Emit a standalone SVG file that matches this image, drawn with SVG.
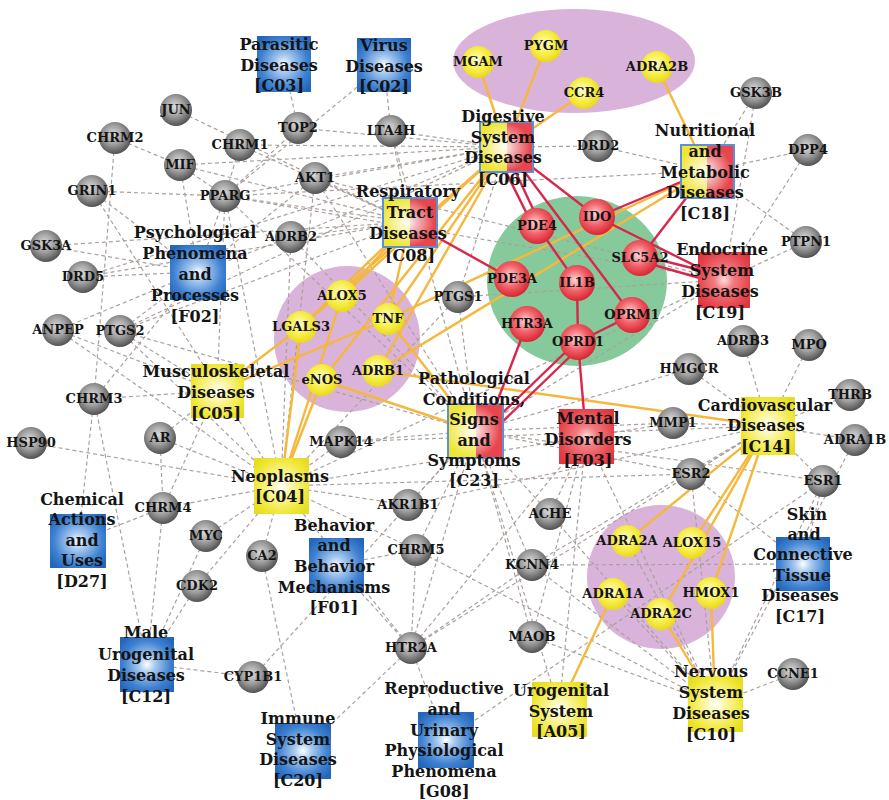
<svg xmlns="http://www.w3.org/2000/svg" width="889" height="800" viewBox="0 0 889 800">
<defs>
<radialGradient id="gGray" cx="0.45" cy="0.4" r="0.62"><stop offset="0" stop-color="#dcdcdc"/><stop offset="0.5" stop-color="#9d9d9d"/><stop offset="1" stop-color="#4c4c4c"/></radialGradient>
<radialGradient id="gYel" cx="0.45" cy="0.42" r="0.6"><stop offset="0" stop-color="#fffbd6"/><stop offset="0.55" stop-color="#f7ef48"/><stop offset="1" stop-color="#ead61c"/></radialGradient>
<radialGradient id="gRed" cx="0.45" cy="0.42" r="0.6"><stop offset="0" stop-color="#ffd8d8"/><stop offset="0.5" stop-color="#f2646c"/><stop offset="1" stop-color="#d8222f"/></radialGradient>
<radialGradient id="sBlue" cx="0.5" cy="0.5" r="0.62"><stop offset="0" stop-color="#ffffff"/><stop offset="0.25" stop-color="#a8c9ef"/><stop offset="0.7" stop-color="#3f82d2"/><stop offset="1" stop-color="#2566ba"/></radialGradient>
<radialGradient id="sYel" cx="0.5" cy="0.5" r="0.62"><stop offset="0" stop-color="#ffffff"/><stop offset="0.3" stop-color="#fbf7a6"/><stop offset="0.8" stop-color="#efe632"/><stop offset="1" stop-color="#e6dc22"/></radialGradient>
<radialGradient id="sRed" cx="0.5" cy="0.5" r="0.62"><stop offset="0" stop-color="#ffdede"/><stop offset="0.3" stop-color="#f27c82"/><stop offset="0.8" stop-color="#e6444c"/><stop offset="1" stop-color="#df3640"/></radialGradient>
<radialGradient id="sGlow" cx="0.45" cy="0.5" r="0.5"><stop offset="0" stop-color="#ffffff" stop-opacity="0.95"/><stop offset="1" stop-color="#ffffff" stop-opacity="0"/></radialGradient>
</defs>
<style>
.gb{fill:url(#gGray)}
.yb{fill:url(#gYel)}
.rb{fill:url(#gRed)}
.sqb{fill:url(#sBlue)}
.sqy{fill:url(#sYel)}
.sqr{fill:url(#sRed)}
.hy{fill:#efe534}
.hr{fill:#e8464e}
.glow{fill:url(#sGlow)}
.out{fill:none;stroke:#5b8fd6;stroke-width:2}
.gl{font-family:"DejaVu Serif","Liberation Serif",serif;font-weight:bold;font-size:13px;fill:#141414;text-anchor:middle}
.dl{font-family:"DejaVu Serif","Liberation Serif",serif;font-weight:bold;font-size:16px;fill:#141414;text-anchor:middle}
.dash line{stroke:#aaa19d;stroke-width:1.2;stroke-dasharray:4 3;fill:none}
.yel line{stroke:#f5b83c;stroke-width:2.4}
.red line{stroke:#d8264d;stroke-width:2.4}
</style>
<rect width="889" height="800" fill="#ffffff"/>
<g id="clusters">
<ellipse cx="574" cy="61" rx="121" ry="52" fill="#d9b3d9"/>
<circle cx="347" cy="339" r="73" fill="#d9b3d9"/>
<ellipse cx="577" cy="281" rx="90" ry="85" fill="#86c99b"/>
<ellipse cx="661" cy="577" rx="74" ry="72" fill="#d9b3d9"/>
</g>
<g id="connectors">
<g class="dash">
<line x1="176" y1="110" x2="410" y2="222"/>
<line x1="115" y1="138" x2="180" y2="165"/>
<line x1="115" y1="138" x2="94" y2="399"/>
<line x1="92" y1="191" x2="225" y2="196"/>
<line x1="92" y1="191" x2="198" y2="272"/>
<line x1="92" y1="191" x2="281" y2="486"/>
<line x1="180" y1="165" x2="225" y2="196"/>
<line x1="180" y1="165" x2="506" y2="147"/>
<line x1="180" y1="165" x2="410" y2="222"/>
<line x1="180" y1="165" x2="198" y2="272"/>
<line x1="240" y1="145" x2="225" y2="196"/>
<line x1="240" y1="145" x2="506" y2="147"/>
<line x1="240" y1="145" x2="410" y2="222"/>
<line x1="225" y1="196" x2="298" y2="128"/>
<line x1="298" y1="128" x2="284" y2="64"/>
<line x1="298" y1="128" x2="506" y2="147"/>
<line x1="384" y1="65" x2="225" y2="196"/>
<line x1="391" y1="131" x2="384" y2="65"/>
<line x1="391" y1="131" x2="506" y2="147"/>
<line x1="391" y1="131" x2="410" y2="222"/>
<line x1="391" y1="131" x2="475" y2="431"/>
<line x1="315" y1="178" x2="506" y2="147"/>
<line x1="315" y1="178" x2="410" y2="222"/>
<line x1="315" y1="178" x2="198" y2="272"/>
<line x1="315" y1="178" x2="475" y2="431"/>
<line x1="315" y1="178" x2="281" y2="486"/>
<line x1="315" y1="178" x2="724" y2="280"/>
<line x1="225" y1="196" x2="506" y2="147"/>
<line x1="225" y1="196" x2="410" y2="222"/>
<line x1="225" y1="196" x2="217" y2="391"/>
<line x1="225" y1="196" x2="281" y2="486"/>
<line x1="225" y1="196" x2="198" y2="272"/>
<line x1="225" y1="196" x2="475" y2="431"/>
<line x1="225" y1="196" x2="724" y2="280"/>
<line x1="225" y1="196" x2="707" y2="171"/>
<line x1="46" y1="246" x2="198" y2="272"/>
<line x1="46" y1="246" x2="410" y2="222"/>
<line x1="83" y1="277" x2="198" y2="272"/>
<line x1="83" y1="277" x2="410" y2="222"/>
<line x1="83" y1="277" x2="506" y2="147"/>
<line x1="58" y1="330" x2="198" y2="272"/>
<line x1="58" y1="330" x2="281" y2="486"/>
<line x1="58" y1="330" x2="217" y2="391"/>
<line x1="120" y1="331" x2="198" y2="272"/>
<line x1="120" y1="331" x2="217" y2="391"/>
<line x1="120" y1="331" x2="281" y2="486"/>
<line x1="120" y1="331" x2="410" y2="222"/>
<line x1="120" y1="331" x2="475" y2="431"/>
<line x1="120" y1="331" x2="506" y2="147"/>
<line x1="94" y1="399" x2="198" y2="272"/>
<line x1="94" y1="399" x2="217" y2="391"/>
<line x1="94" y1="399" x2="147" y2="664"/>
<line x1="94" y1="399" x2="78" y2="541"/>
<line x1="31" y1="443" x2="281" y2="486"/>
<line x1="160" y1="438" x2="217" y2="391"/>
<line x1="160" y1="438" x2="281" y2="486"/>
<line x1="160" y1="438" x2="163" y2="508"/>
<line x1="163" y1="508" x2="281" y2="486"/>
<line x1="163" y1="508" x2="78" y2="541"/>
<line x1="163" y1="508" x2="147" y2="664"/>
<line x1="163" y1="508" x2="217" y2="391"/>
<line x1="206" y1="536" x2="281" y2="486"/>
<line x1="206" y1="536" x2="147" y2="664"/>
<line x1="197" y1="586" x2="281" y2="486"/>
<line x1="197" y1="586" x2="147" y2="664"/>
<line x1="262" y1="556" x2="281" y2="486"/>
<line x1="262" y1="556" x2="303" y2="751"/>
<line x1="253" y1="677" x2="147" y2="664"/>
<line x1="253" y1="677" x2="475" y2="431"/>
<line x1="341" y1="442" x2="281" y2="486"/>
<line x1="341" y1="442" x2="475" y2="431"/>
<line x1="341" y1="442" x2="768" y2="426"/>
<line x1="291" y1="237" x2="410" y2="222"/>
<line x1="291" y1="237" x2="506" y2="147"/>
<line x1="291" y1="237" x2="198" y2="272"/>
<line x1="291" y1="237" x2="281" y2="486"/>
<line x1="291" y1="237" x2="475" y2="431"/>
<line x1="408" y1="505" x2="281" y2="486"/>
<line x1="408" y1="505" x2="475" y2="431"/>
<line x1="408" y1="505" x2="768" y2="426"/>
<line x1="416" y1="550" x2="336" y2="565"/>
<line x1="416" y1="550" x2="281" y2="486"/>
<line x1="416" y1="550" x2="411" y2="648"/>
<line x1="416" y1="550" x2="715" y2="704"/>
<line x1="416" y1="550" x2="475" y2="431"/>
<line x1="411" y1="648" x2="336" y2="565"/>
<line x1="411" y1="648" x2="446" y2="740"/>
<line x1="411" y1="648" x2="303" y2="751"/>
<line x1="411" y1="648" x2="475" y2="431"/>
<line x1="411" y1="648" x2="532" y2="565"/>
<line x1="411" y1="648" x2="586" y2="436"/>
<line x1="411" y1="648" x2="281" y2="486"/>
<line x1="411" y1="648" x2="768" y2="426"/>
<line x1="532" y1="565" x2="475" y2="431"/>
<line x1="532" y1="565" x2="715" y2="704"/>
<line x1="532" y1="565" x2="768" y2="426"/>
<line x1="532" y1="565" x2="803" y2="564"/>
<line x1="532" y1="637" x2="586" y2="436"/>
<line x1="532" y1="637" x2="715" y2="704"/>
<line x1="532" y1="637" x2="475" y2="431"/>
<line x1="550" y1="514" x2="475" y2="431"/>
<line x1="550" y1="514" x2="715" y2="704"/>
<line x1="550" y1="514" x2="586" y2="436"/>
<line x1="446" y1="740" x2="823" y2="481"/>
<line x1="598" y1="146" x2="506" y2="147"/>
<line x1="598" y1="146" x2="707" y2="171"/>
<line x1="756" y1="93" x2="707" y2="171"/>
<line x1="756" y1="93" x2="724" y2="280"/>
<line x1="808" y1="150" x2="707" y2="171"/>
<line x1="808" y1="150" x2="724" y2="280"/>
<line x1="806" y1="242" x2="707" y2="171"/>
<line x1="806" y1="242" x2="724" y2="280"/>
<line x1="743" y1="341" x2="768" y2="426"/>
<line x1="809" y1="345" x2="768" y2="426"/>
<line x1="689" y1="369" x2="768" y2="426"/>
<line x1="850" y1="395" x2="768" y2="426"/>
<line x1="855" y1="440" x2="768" y2="426"/>
<line x1="673" y1="423" x2="768" y2="426"/>
<line x1="691" y1="474" x2="768" y2="426"/>
<line x1="823" y1="481" x2="768" y2="426"/>
<line x1="689" y1="369" x2="475" y2="431"/>
<line x1="673" y1="423" x2="475" y2="431"/>
<line x1="691" y1="474" x2="475" y2="431"/>
<line x1="691" y1="474" x2="715" y2="704"/>
<line x1="691" y1="474" x2="281" y2="486"/>
<line x1="691" y1="474" x2="803" y2="564"/>
<line x1="823" y1="481" x2="803" y2="564"/>
<line x1="823" y1="481" x2="715" y2="704"/>
<line x1="823" y1="481" x2="475" y2="431"/>
<line x1="855" y1="440" x2="715" y2="704"/>
<line x1="793" y1="674" x2="715" y2="704"/>
<line x1="724" y1="280" x2="475" y2="431"/>
<line x1="724" y1="280" x2="281" y2="486"/>
<line x1="458" y1="297" x2="506" y2="147"/>
<line x1="458" y1="297" x2="475" y2="431"/>
<line x1="458" y1="297" x2="281" y2="486"/>
<line x1="458" y1="297" x2="724" y2="280"/>
<line x1="627" y1="541" x2="715" y2="704"/>
<line x1="613" y1="594" x2="715" y2="704"/>
<line x1="475" y1="431" x2="559" y2="709"/>
<line x1="586" y1="436" x2="559" y2="709"/>
<line x1="586" y1="436" x2="715" y2="704"/>
<line x1="281" y1="486" x2="673" y2="423"/>
</g>
<g class="yel">
<line x1="478" y1="62" x2="506" y2="147"/>
<line x1="546" y1="46" x2="506" y2="147"/>
<line x1="584" y1="93" x2="506" y2="147"/>
<line x1="657" y1="67" x2="707" y2="171"/>
<line x1="506" y1="147" x2="342" y2="296"/>
<line x1="506" y1="147" x2="301" y2="327"/>
<line x1="506" y1="147" x2="322" y2="380"/>
<line x1="506" y1="147" x2="378" y2="371"/>
<line x1="506" y1="147" x2="388" y2="319"/>
<line x1="410" y1="222" x2="342" y2="296"/>
<line x1="410" y1="222" x2="388" y2="319"/>
<line x1="410" y1="222" x2="301" y2="327"/>
<line x1="217" y1="391" x2="301" y2="327"/>
<line x1="217" y1="391" x2="388" y2="319"/>
<line x1="281" y1="486" x2="301" y2="327"/>
<line x1="281" y1="486" x2="322" y2="380"/>
<line x1="281" y1="486" x2="342" y2="296"/>
<line x1="322" y1="380" x2="475" y2="431"/>
<line x1="388" y1="319" x2="475" y2="431"/>
<line x1="378" y1="371" x2="768" y2="426"/>
<line x1="707" y1="171" x2="388" y2="319"/>
<line x1="707" y1="171" x2="378" y2="371"/>
<line x1="768" y1="426" x2="627" y2="541"/>
<line x1="768" y1="426" x2="692" y2="543"/>
<line x1="768" y1="426" x2="661" y2="614"/>
<line x1="768" y1="426" x2="711" y2="593"/>
<line x1="715" y1="704" x2="661" y2="614"/>
<line x1="715" y1="704" x2="711" y2="593"/>
<line x1="559" y1="709" x2="613" y2="594"/>
</g>
<g class="red">
<line x1="500" y1="160" x2="533" y2="226"/>
<line x1="510" y1="160" x2="541" y2="226"/>
<line x1="537" y1="226" x2="577" y2="283"/>
<line x1="506" y1="147" x2="597" y2="217"/>
<line x1="506" y1="147" x2="632" y2="315"/>
<line x1="597" y1="217" x2="724" y2="280"/>
<line x1="640" y1="255" x2="724" y2="276"/>
<line x1="640" y1="261" x2="724" y2="285"/>
<line x1="707" y1="171" x2="597" y2="217"/>
<line x1="707" y1="171" x2="640" y2="258"/>
<line x1="410" y1="222" x2="512" y2="279"/>
<line x1="577" y1="283" x2="578" y2="342"/>
<line x1="632" y1="315" x2="578" y2="342"/>
<line x1="527" y1="324" x2="490" y2="420"/>
<line x1="576" y1="342" x2="490" y2="425"/>
<line x1="582" y1="345" x2="496" y2="428"/>
<line x1="578" y1="342" x2="586" y2="436"/>
</g>
</g>
<g id="diseases">
<g id="C03"><rect x="257" y="36" width="54" height="56" class="sqb"/><text class="dl"><tspan x="279" y="50">Parasitic</tspan><tspan x="279" y="71">Diseases</tspan><tspan x="279" y="91">[C03]</tspan></text></g>
<g id="C02"><rect x="357" y="38" width="54" height="54" class="sqb"/><text class="dl"><tspan x="384" y="51">Virus</tspan><tspan x="384" y="72">Diseases</tspan><tspan x="384" y="92">[C02]</tspan></text></g>
<g id="C06"><rect x="480" y="122" width="27" height="50" class="hy"/><rect x="507" y="122" width="26" height="50" class="hr"/><rect x="480" y="122" width="53" height="50" class="glow"/><rect x="480" y="122" width="53" height="50" class="out"/><text class="dl"><tspan x="503" y="122">Digestive</tspan><tspan x="503" y="143">System</tspan><tspan x="503" y="163">Diseases</tspan><tspan x="503" y="185">[C06]</tspan></text></g>
<g id="C08"><rect x="383" y="198" width="27" height="49" class="hy"/><rect x="410" y="198" width="27" height="49" class="hr"/><rect x="383" y="198" width="54" height="49" class="glow"/><rect x="383" y="198" width="54" height="49" class="out"/><text class="dl"><tspan x="408" y="197">Respiratory</tspan><tspan x="410" y="218">Tract</tspan><tspan x="408" y="239">Diseases</tspan><tspan x="410" y="261">[C08]</tspan></text></g>
<g id="C18"><rect x="681" y="145" width="26" height="53" class="hy"/><rect x="707" y="145" width="27" height="53" class="hr"/><rect x="681" y="145" width="53" height="53" class="glow"/><rect x="681" y="145" width="53" height="53" class="out"/><text class="dl"><tspan x="705" y="136">Nutritional</tspan><tspan x="705" y="157">and</tspan><tspan x="705" y="178">Metabolic</tspan><tspan x="705" y="198">Diseases</tspan><tspan x="705" y="219">[C18]</tspan></text></g>
<g id="C19"><rect x="698" y="252" width="52" height="56" class="sqr"/><text class="dl"><tspan x="722" y="255">Endocrine</tspan><tspan x="722" y="276">System</tspan><tspan x="720" y="297">Diseases</tspan><tspan x="720" y="318">[C19]</tspan></text></g>
<g id="F02"><rect x="170" y="245" width="56" height="55" class="sqb"/><text class="dl"><tspan x="195" y="238">Psychological</tspan><tspan x="195" y="259">Phenomena</tspan><tspan x="195" y="280">and</tspan><tspan x="195" y="301">Processes</tspan><tspan x="195" y="322">[F02]</tspan></text></g>
<g id="C05"><rect x="191" y="364" width="53" height="54" class="sqy"/><text class="dl"><tspan x="216" y="377">Musculoskeletal</tspan><tspan x="216" y="398">Diseases</tspan><tspan x="216" y="419">[C05]</tspan></text></g>
<g id="C23"><rect x="448" y="404" width="28" height="54" class="hy"/><rect x="476" y="404" width="27" height="54" class="hr"/><rect x="448" y="404" width="55" height="54" class="glow"/><rect x="448" y="404" width="55" height="54" class="out"/><text class="dl"><tspan x="474" y="384">Pathological</tspan><tspan x="474" y="405">Conditions,</tspan><tspan x="474" y="425">Signs</tspan><tspan x="474" y="446">and</tspan><tspan x="474" y="466">Symptoms</tspan><tspan x="474" y="486">[C23]</tspan></text></g>
<g id="F03"><rect x="559" y="409" width="55" height="55" class="sqr"/><text class="dl"><tspan x="588" y="424">Mental</tspan><tspan x="588" y="445">Disorders</tspan><tspan x="588" y="466">[F03]</tspan></text></g>
<g id="C14"><rect x="741" y="397" width="54" height="58" class="sqy"/><text class="dl"><tspan x="765" y="411">Cardiovascular</tspan><tspan x="766" y="431">Diseases</tspan><tspan x="766" y="452">[C14]</tspan></text></g>
<g id="C04"><rect x="254" y="458" width="55" height="56" class="sqy"/><text class="dl"><tspan x="280" y="482">Neoplasms</tspan><tspan x="280" y="502">[C04]</tspan></text></g>
<g id="D27"><rect x="50" y="514" width="56" height="54" class="sqb"/><text class="dl"><tspan x="82" y="505">Chemical</tspan><tspan x="82" y="525">Actions</tspan><tspan x="82" y="546">and</tspan><tspan x="82" y="566">Uses</tspan><tspan x="82" y="587">[D27]</tspan></text></g>
<g id="F01"><rect x="309" y="538" width="55" height="55" class="sqb"/><text class="dl"><tspan x="334" y="531">Behavior</tspan><tspan x="334" y="551">and</tspan><tspan x="334" y="572">Behavior</tspan><tspan x="334" y="593">Mechanisms</tspan><tspan x="334" y="613">[F01]</tspan></text></g>
<g id="C17"><rect x="776" y="537" width="54" height="54" class="sqb"/><text class="dl"><tspan x="807" y="520">Skin</tspan><tspan x="804" y="540">and</tspan><tspan x="803" y="560">Connective</tspan><tspan x="802" y="581">Tissue</tspan><tspan x="800" y="601">Diseases</tspan><tspan x="800" y="622">[C17]</tspan></text></g>
<g id="C12"><rect x="120" y="637" width="54" height="55" class="sqb"/><text class="dl"><tspan x="146" y="638">Male</tspan><tspan x="146" y="660">Urogenital</tspan><tspan x="146" y="681">Diseases</tspan><tspan x="146" y="702">[C12]</tspan></text></g>
<g id="C20"><rect x="275" y="723" width="56" height="56" class="sqb"/><text class="dl"><tspan x="298" y="724">Immune</tspan><tspan x="298" y="745">System</tspan><tspan x="298" y="765">Diseases</tspan><tspan x="298" y="786">[C20]</tspan></text></g>
<g id="G08"><rect x="418" y="712" width="56" height="56" class="sqb"/><text class="dl"><tspan x="444" y="694">Reproductive</tspan><tspan x="444" y="715">and</tspan><tspan x="444" y="736">Urinary</tspan><tspan x="444" y="756">Physiological</tspan><tspan x="444" y="777">Phenomena</tspan><tspan x="444" y="797">[G08]</tspan></text></g>
<g id="A05"><rect x="532" y="682" width="55" height="55" class="sqy"/><text class="dl"><tspan x="561" y="696">Urogenital</tspan><tspan x="561" y="717">System</tspan><tspan x="561" y="737">[A05]</tspan></text></g>
<g id="C10"><rect x="688" y="676" width="55" height="56" class="sqy"/><text class="dl"><tspan x="711" y="677">Nervous</tspan><tspan x="711" y="698">System</tspan><tspan x="711" y="719">Diseases</tspan><tspan x="711" y="740">[C10]</tspan></text></g>
</g>
<g id="genes">
<g id="JUN"><circle cx="176" cy="110" r="16" class="gb"/><text x="176" y="114" class="gl">JUN</text></g>
<g id="CHRM2"><circle cx="115" cy="138" r="16" class="gb"/><text x="115" y="142" class="gl">CHRM2</text></g>
<g id="CHRM1"><circle cx="240" cy="145" r="16" class="gb"/><text x="240" y="149" class="gl">CHRM1</text></g>
<g id="TOP2"><circle cx="298" cy="128" r="16" class="gb"/><text x="298" y="132" class="gl">TOP2</text></g>
<g id="LTA4H"><circle cx="391" cy="131" r="16" class="gb"/><text x="391" y="135" class="gl">LTA4H</text></g>
<g id="MIF"><circle cx="180" cy="165" r="16" class="gb"/><text x="180" y="169" class="gl">MIF</text></g>
<g id="AKT1"><circle cx="315" cy="178" r="16" class="gb"/><text x="315" y="182" class="gl">AKT1</text></g>
<g id="PPARG"><circle cx="225" cy="196" r="16" class="gb"/><text x="225" y="200" class="gl">PPARG</text></g>
<g id="GRIN1"><circle cx="92" cy="191" r="16" class="gb"/><text x="92" y="195" class="gl">GRIN1</text></g>
<g id="GSK3A"><circle cx="46" cy="246" r="16" class="gb"/><text x="46" y="250" class="gl">GSK3A</text></g>
<g id="ADRB2"><circle cx="291" cy="237" r="16" class="gb"/><text x="291" y="241" class="gl">ADRB2</text></g>
<g id="DRD5"><circle cx="83" cy="277" r="16" class="gb"/><text x="83" y="281" class="gl">DRD5</text></g>
<g id="ANPEP"><circle cx="58" cy="330" r="16" class="gb"/><text x="58" y="334" class="gl">ANPEP</text></g>
<g id="PTGS2"><circle cx="120" cy="331" r="16" class="gb"/><text x="120" y="335" class="gl">PTGS2</text></g>
<g id="PTGS1"><circle cx="458" cy="297" r="16" class="gb"/><text x="458" y="301" class="gl">PTGS1</text></g>
<g id="CHRM3"><circle cx="94" cy="399" r="16" class="gb"/><text x="94" y="403" class="gl">CHRM3</text></g>
<g id="HSP90"><circle cx="31" cy="443" r="16" class="gb"/><text x="31" y="447" class="gl">HSP90</text></g>
<g id="AR"><circle cx="160" cy="438" r="16" class="gb"/><text x="160" y="442" class="gl">AR</text></g>
<g id="MAPK14"><circle cx="341" cy="442" r="16" class="gb"/><text x="341" y="446" class="gl">MAPK14</text></g>
<g id="CHRM4"><circle cx="163" cy="508" r="16" class="gb"/><text x="163" y="512" class="gl">CHRM4</text></g>
<g id="AKR1B1"><circle cx="408" cy="505" r="16" class="gb"/><text x="408" y="509" class="gl">AKR1B1</text></g>
<g id="MYC"><circle cx="206" cy="536" r="16" class="gb"/><text x="206" y="540" class="gl">MYC</text></g>
<g id="ACHE"><circle cx="550" cy="514" r="16" class="gb"/><text x="550" y="518" class="gl">ACHE</text></g>
<g id="CA2"><circle cx="262" cy="556" r="16" class="gb"/><text x="262" y="560" class="gl">CA2</text></g>
<g id="CHRM5"><circle cx="416" cy="550" r="16" class="gb"/><text x="416" y="554" class="gl">CHRM5</text></g>
<g id="KCNN4"><circle cx="532" cy="565" r="16" class="gb"/><text x="532" y="569" class="gl">KCNN4</text></g>
<g id="CDK2"><circle cx="197" cy="586" r="16" class="gb"/><text x="197" y="590" class="gl">CDK2</text></g>
<g id="MAOB"><circle cx="532" cy="637" r="16" class="gb"/><text x="532" y="641" class="gl">MAOB</text></g>
<g id="HTR2A"><circle cx="411" cy="648" r="16" class="gb"/><text x="411" y="652" class="gl">HTR2A</text></g>
<g id="CYP1B1"><circle cx="253" cy="677" r="16" class="gb"/><text x="253" y="681" class="gl">CYP1B1</text></g>
<g id="DRD2"><circle cx="598" cy="146" r="16" class="gb"/><text x="598" y="150" class="gl">DRD2</text></g>
<g id="GSK3B"><circle cx="756" cy="93" r="16" class="gb"/><text x="756" y="97" class="gl">GSK3B</text></g>
<g id="DPP4"><circle cx="808" cy="150" r="16" class="gb"/><text x="808" y="154" class="gl">DPP4</text></g>
<g id="PTPN1"><circle cx="806" cy="242" r="16" class="gb"/><text x="806" y="246" class="gl">PTPN1</text></g>
<g id="ADRB3"><circle cx="743" cy="341" r="16" class="gb"/><text x="743" y="345" class="gl">ADRB3</text></g>
<g id="MPO"><circle cx="809" cy="345" r="16" class="gb"/><text x="809" y="349" class="gl">MPO</text></g>
<g id="HMGCR"><circle cx="689" cy="369" r="16" class="gb"/><text x="689" y="373" class="gl">HMGCR</text></g>
<g id="THRB"><circle cx="850" cy="395" r="16" class="gb"/><text x="850" y="399" class="gl">THRB</text></g>
<g id="MMP1"><circle cx="673" cy="423" r="16" class="gb"/><text x="673" y="427" class="gl">MMP1</text></g>
<g id="ADRA1B"><circle cx="855" cy="440" r="16" class="gb"/><text x="855" y="444" class="gl">ADRA1B</text></g>
<g id="ESR2"><circle cx="691" cy="474" r="16" class="gb"/><text x="691" y="478" class="gl">ESR2</text></g>
<g id="ESR1"><circle cx="823" cy="481" r="16" class="gb"/><text x="823" y="485" class="gl">ESR1</text></g>
<g id="CCNE1"><circle cx="793" cy="674" r="16" class="gb"/><text x="793" y="678" class="gl">CCNE1</text></g>
<g id="MGAM"><circle cx="478" cy="62" r="16" class="yb"/><text x="478" y="66" class="gl">MGAM</text></g>
<g id="PYGM"><circle cx="546" cy="46" r="16" class="yb"/><text x="546" y="50" class="gl">PYGM</text></g>
<g id="CCR4"><circle cx="584" cy="93" r="16" class="yb"/><text x="584" y="97" class="gl">CCR4</text></g>
<g id="ADRA2B"><circle cx="657" cy="67" r="16" class="yb"/><text x="657" y="71" class="gl">ADRA2B</text></g>
<g id="ALOX5"><circle cx="342" cy="296" r="16" class="yb"/><text x="342" y="300" class="gl">ALOX5</text></g>
<g id="LGALS3"><circle cx="301" cy="327" r="16" class="yb"/><text x="301" y="331" class="gl">LGALS3</text></g>
<g id="TNF"><circle cx="388" cy="319" r="16" class="yb"/><text x="388" y="323" class="gl">TNF</text></g>
<g id="eNOS"><circle cx="322" cy="380" r="16" class="yb"/><text x="322" y="384" class="gl">eNOS</text></g>
<g id="ADRB1"><circle cx="378" cy="371" r="16" class="yb"/><text x="378" y="375" class="gl">ADRB1</text></g>
<g id="ADRA2A"><circle cx="627" cy="541" r="16" class="yb"/><text x="627" y="545" class="gl">ADRA2A</text></g>
<g id="ALOX15"><circle cx="692" cy="543" r="16" class="yb"/><text x="692" y="547" class="gl">ALOX15</text></g>
<g id="ADRA1A"><circle cx="613" cy="594" r="16" class="yb"/><text x="613" y="598" class="gl">ADRA1A</text></g>
<g id="ADRA2C"><circle cx="661" cy="614" r="16" class="yb"/><text x="661" y="618" class="gl">ADRA2C</text></g>
<g id="HMOX1"><circle cx="711" cy="593" r="16" class="yb"/><text x="711" y="597" class="gl">HMOX1</text></g>
<g id="PDE4"><circle cx="537" cy="226" r="18" class="rb"/><text x="537" y="230" class="gl">PDE4</text></g>
<g id="IDO"><circle cx="597" cy="217" r="18" class="rb"/><text x="597" y="221" class="gl">IDO</text></g>
<g id="SLC5A2"><circle cx="640" cy="258" r="18" class="rb"/><text x="640" y="262" class="gl">SLC5A2</text></g>
<g id="PDE3A"><circle cx="512" cy="279" r="18" class="rb"/><text x="512" y="283" class="gl">PDE3A</text></g>
<g id="IL1B"><circle cx="577" cy="283" r="18" class="rb"/><text x="577" y="287" class="gl">IL1B</text></g>
<g id="HTR3A"><circle cx="527" cy="324" r="18" class="rb"/><text x="527" y="328" class="gl">HTR3A</text></g>
<g id="OPRM1"><circle cx="632" cy="315" r="18" class="rb"/><text x="632" y="319" class="gl">OPRM1</text></g>
<g id="OPRD1"><circle cx="578" cy="342" r="18" class="rb"/><text x="578" y="346" class="gl">OPRD1</text></g>
</g>
</svg>
